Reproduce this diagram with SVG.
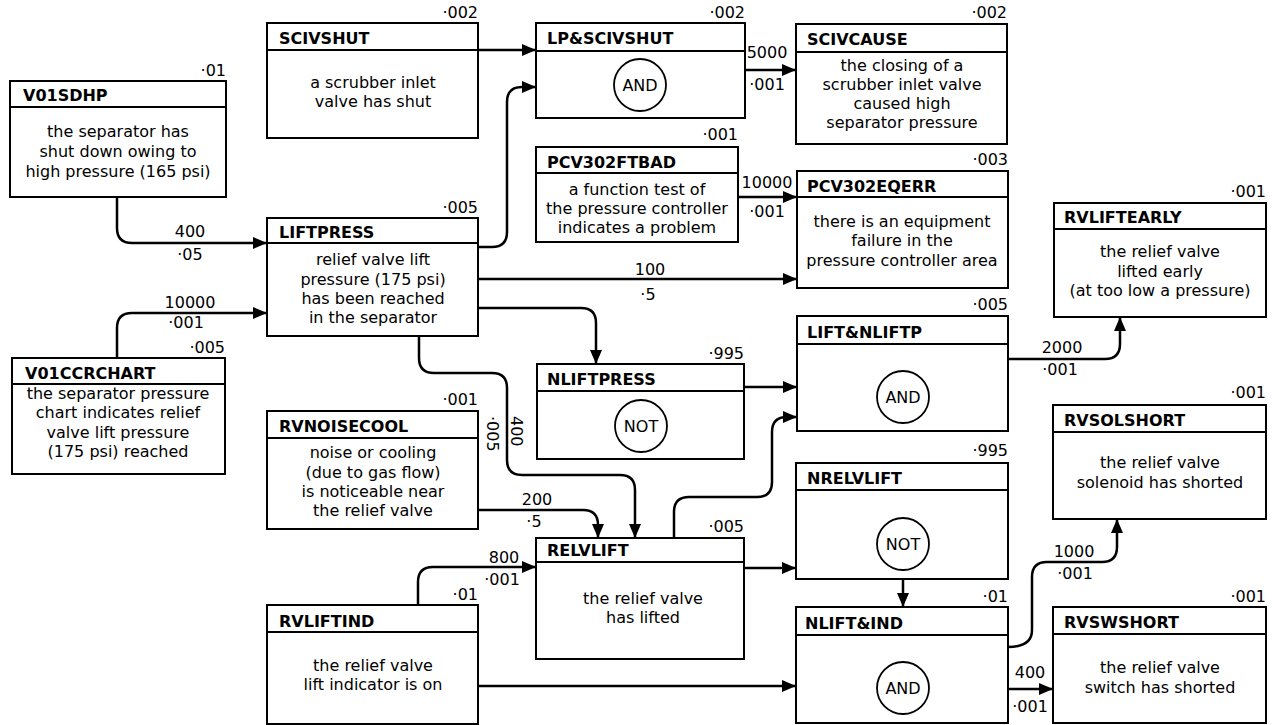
<svg xmlns="http://www.w3.org/2000/svg" width="1274" height="725" viewBox="0 0 1274 725">
<defs>
<style>
.box{fill:#fff;stroke:#000;stroke-width:2}
.hl{stroke:#000;stroke-width:2}
text{font-family:"DejaVu Sans","Liberation Sans",sans-serif;font-size:16px;fill:#000}
.t{font-weight:bold}
.b{text-anchor:middle}
.p{text-anchor:end}
.l{text-anchor:middle}
.c{fill:none;stroke:#000;stroke-width:2.5;marker-end:url(#ah)}
.g{fill:none;stroke:#000;stroke-width:1.8}
</style>
<marker id="ah" markerUnits="userSpaceOnUse" markerWidth="14" markerHeight="12" refX="13" refY="6" orient="auto">
<path d="M0,0 L14,6 L0,12 z" fill="#000"/>
</marker>
</defs>
<rect width="1274" height="725" fill="#fff"/>

<g id="connectors">
<path class="c" d="M478,50 H535"/>
<path class="c" d="M478,247 H492 Q507,247 507,232 V102 Q507,87 522,87 H535"/>
<path class="c" d="M745,70 H795"/>
<path class="c" d="M738,197 H796"/>
<path class="c" d="M117,197 V228 Q117,243 132,243 H266"/>
<path class="c" d="M117,358 V328 Q117,313 132,313 H266"/>
<path class="c" d="M478,279 H796"/>
<path class="c" d="M478,308 H581 Q596,308 596,323 V363"/>
<path class="c" d="M419,336 V358 Q419,373 434,373 H492 Q507,373 507,388 V460 Q507,475 522,475 H620 Q635,475 635,490 V537"/>
<path class="c" d="M478,510 H583 Q598,510 598,525 V537"/>
<path class="c" d="M418,605 V582 Q418,567 433,567 H535"/>
<path class="c" d="M478,686 H795"/>
<path class="c" d="M744,387 H796"/>
<path class="c" d="M674,538 V512 Q674,497 689,497 H757 Q772,497 772,482 V432 Q772,417 787,417 H796"/>
<path class="c" d="M744,568 H795"/>
<path class="c" d="M903,579 V606"/>
<path class="c" d="M1008,359 H1105 Q1120,359 1120,344 V318"/>
<path class="c" d="M1008,647 Q1032,647 1032,630 V577 Q1032,562 1047,562 H1102 Q1117,562 1117,547 V520"/>
<path class="c" d="M1008,689 H1052"/>
<text class="l" x="767" y="58">5000</text>
<text class="l" x="767" y="90">·001</text>
<text class="l" x="767" y="188">10000</text>
<text class="l" x="767" y="217">·001</text>
<text class="l" x="190" y="237">400</text>
<text class="l" x="190" y="260">·05</text>
<text class="l" x="190" y="308">10000</text>
<text class="l" x="186" y="328">·001</text>
<text class="l" x="650" y="275">100</text>
<text class="l" x="648" y="300">·5</text>
<text transform="translate(511,416) rotate(90)">400</text>
<text transform="translate(487,416) rotate(90)">·005</text>
<text class="l" x="537" y="505">200</text>
<text class="l" x="534" y="527">·5</text>
<text class="l" x="504" y="563">800</text>
<text class="l" x="502" y="585">·001</text>
<text class="l" x="1062" y="353">2000</text>
<text class="l" x="1060" y="375">·001</text>
<text class="l" x="1074" y="557">1000</text>
<text class="l" x="1075" y="579">·001</text>
<text class="l" x="1030" y="678">400</text>
<text class="l" x="1030" y="712">·001</text>
</g>

<g id="V01SDHP">
<rect class="box" x="10" y="81" width="216" height="116"/>
<line class="hl" x1="10" y1="107" x2="226" y2="107"/>
<text class="p" x="226" y="76">·01</text>
<text class="t" x="23" y="101">V01SDHP</text>
<text class="b" x="118" y="137">the separator has</text>
<text class="b" x="118" y="157">shut down owing to</text>
<text class="b" x="118" y="177">high pressure (165 psi)</text>
</g>

<g id="SCIVSHUT">
<rect class="box" x="267" y="23" width="211" height="115"/>
<line class="hl" x1="267" y1="50" x2="478" y2="50"/>
<text class="p" x="478" y="18">·002</text>
<text class="t" x="279" y="44">SCIVSHUT</text>
<text class="b" x="373" y="88">a scrubber inlet</text>
<text class="b" x="373" y="107">valve has shut</text>
</g>

<g id="LPSCIVSHUT">
<rect class="box" x="536" y="23" width="209" height="95"/>
<line class="hl" x1="536" y1="51" x2="745" y2="51"/>
<text class="p" x="745" y="18">·002</text>
<text class="t" x="547" y="44">LP&amp;SCIVSHUT</text>
<circle class="g" cx="640" cy="85" r="26"/>
<text class="b" x="640" y="91">AND</text>
</g>

<g id="SCIVCAUSE">
<rect class="box" x="796" y="24" width="211" height="120"/>
<line class="hl" x1="796" y1="52" x2="1007" y2="52"/>
<text class="p" x="1007" y="18">·002</text>
<text class="t" x="807" y="45">SCIVCAUSE</text>
<text class="b" x="902" y="71">the closing of a</text>
<text class="b" x="902" y="90">scrubber inlet valve</text>
<text class="b" x="902" y="109">caused high</text>
<text class="b" x="902" y="128">separator pressure</text>
</g>

<g id="PCV302FTBAD">
<rect class="box" x="536" y="147" width="202" height="95"/>
<line class="hl" x1="536" y1="173" x2="738" y2="173"/>
<text class="p" x="738" y="140">·001</text>
<text class="t" x="547" y="168">PCV302FTBAD</text>
<text class="b" x="637" y="195">a function test of</text>
<text class="b" x="637" y="214">the pressure controller</text>
<text class="b" x="637" y="233">indicates a problem</text>
</g>

<g id="PCV302EQERR">
<rect class="box" x="797" y="171" width="211" height="117"/>
<line class="hl" x1="797" y1="197" x2="1008" y2="197"/>
<text class="p" x="1008" y="165">·003</text>
<text class="t" x="807" y="192">PCV302EQERR</text>
<text class="b" x="902" y="227">there is an equipment</text>
<text class="b" x="902" y="246">failure in the</text>
<text class="b" x="902" y="266">pressure controller area</text>
</g>

<g id="LIFTPRESS">
<rect class="box" x="267" y="218" width="211" height="118"/>
<line class="hl" x1="267" y1="243" x2="478" y2="243"/>
<text class="p" x="478" y="213">·005</text>
<text class="t" x="279" y="238">LIFTPRESS</text>
<text class="b" x="373" y="265">relief valve lift</text>
<text class="b" x="373" y="285">pressure (175 psi)</text>
<text class="b" x="373" y="304">has been reached</text>
<text class="b" x="373" y="323">in the separator</text>
</g>

<g id="V01CCRCHART">
<rect class="box" x="12" y="358" width="213" height="116"/>
<line class="hl" x1="12" y1="384" x2="225" y2="384"/>
<text class="p" x="225" y="353">·005</text>
<text class="t" x="25" y="379">V01CCRCHART</text>
<text class="b" x="118" y="399">the separator pressure</text>
<text class="b" x="118" y="418">chart indicates relief</text>
<text class="b" x="118" y="438">valve lift pressure</text>
<text class="b" x="118" y="457">(175 psi) reached</text>
</g>

<g id="RVNOISECOOL">
<rect class="box" x="267" y="411" width="211" height="118"/>
<line class="hl" x1="267" y1="438" x2="478" y2="438"/>
<text class="p" x="478" y="405">·001</text>
<text class="t" x="279" y="432">RVNOISECOOL</text>
<text class="b" x="373" y="458">noise or cooling</text>
<text class="b" x="373" y="478">(due to gas flow)</text>
<text class="b" x="373" y="497">is noticeable near</text>
<text class="b" x="373" y="516">the relief valve</text>
</g>

<g id="NLIFTPRESS">
<rect class="box" x="537" y="364" width="207" height="95"/>
<line class="hl" x1="537" y1="391" x2="744" y2="391"/>
<text class="p" x="744" y="359">·995</text>
<text class="t" x="547" y="385">NLIFTPRESS</text>
<circle class="g" cx="641" cy="426" r="26"/>
<text class="b" x="641" y="432">NOT</text>
</g>

<g id="LIFTNLIFTP">
<rect class="box" x="797" y="316" width="211" height="115"/>
<line class="hl" x1="797" y1="344" x2="1008" y2="344"/>
<text class="p" x="1008" y="310">·005</text>
<text class="t" x="807" y="338">LIFT&amp;NLIFTP</text>
<circle class="g" cx="903" cy="397" r="26"/>
<text class="b" x="903" y="403">AND</text>
</g>

<g id="RELVLIFT">
<rect class="box" x="536" y="538" width="208" height="121"/>
<line class="hl" x1="536" y1="562" x2="744" y2="562"/>
<text class="p" x="744" y="532">·005</text>
<text class="t" x="547" y="556">RELVLIFT</text>
<text class="b" x="643" y="604">the relief valve</text>
<text class="b" x="643" y="623">has lifted</text>
</g>

<g id="NRELVLIFT">
<rect class="box" x="796" y="463" width="212" height="116"/>
<line class="hl" x1="796" y1="490" x2="1008" y2="490"/>
<text class="p" x="1008" y="456">·995</text>
<text class="t" x="807" y="484">NRELVLIFT</text>
<circle class="g" cx="903" cy="544" r="26"/>
<text class="b" x="903" y="550">NOT</text>
</g>

<g id="NLIFTIND">
<rect class="box" x="796" y="607" width="212" height="116"/>
<line class="hl" x1="796" y1="635" x2="1008" y2="635"/>
<text class="p" x="1008" y="602">·01</text>
<text class="t" x="805" y="629">NLIFT&amp;IND</text>
<circle class="g" cx="903" cy="688" r="26"/>
<text class="b" x="903" y="694">AND</text>
</g>

<g id="RVLIFTIND">
<rect class="box" x="267" y="605" width="211" height="119"/>
<line class="hl" x1="267" y1="632" x2="478" y2="632"/>
<text class="p" x="478" y="600">·01</text>
<text class="t" x="279" y="627">RVLIFTIND</text>
<text class="b" x="373" y="671">the relief valve</text>
<text class="b" x="373" y="690">lift indicator is on</text>
</g>

<g id="RVLIFTEARLY">
<rect class="box" x="1054" y="203" width="212" height="114"/>
<line class="hl" x1="1054" y1="229" x2="1266" y2="229"/>
<text class="p" x="1266" y="197">·001</text>
<text class="t" x="1064" y="223">RVLIFTEARLY</text>
<text class="b" x="1160" y="257">the relief valve</text>
<text class="b" x="1160" y="277">lifted early</text>
<text class="b" x="1160" y="296">(at too low a pressure)</text>
</g>

<g id="RVSOLSHORT">
<rect class="box" x="1053" y="405" width="213" height="114"/>
<line class="hl" x1="1053" y1="432" x2="1266" y2="432"/>
<text class="p" x="1266" y="398">·001</text>
<text class="t" x="1064" y="426">RVSOLSHORT</text>
<text class="b" x="1160" y="468">the relief valve</text>
<text class="b" x="1160" y="488">solenoid has shorted</text>
</g>

<g id="RVSWSHORT">
<rect class="box" x="1053" y="607" width="213" height="116"/>
<line class="hl" x1="1053" y1="634" x2="1266" y2="634"/>
<text class="p" x="1266" y="602">·001</text>
<text class="t" x="1064" y="628">RVSWSHORT</text>
<text class="b" x="1160" y="673">the relief valve</text>
<text class="b" x="1160" y="693">switch has shorted</text>
</g>
</svg>
